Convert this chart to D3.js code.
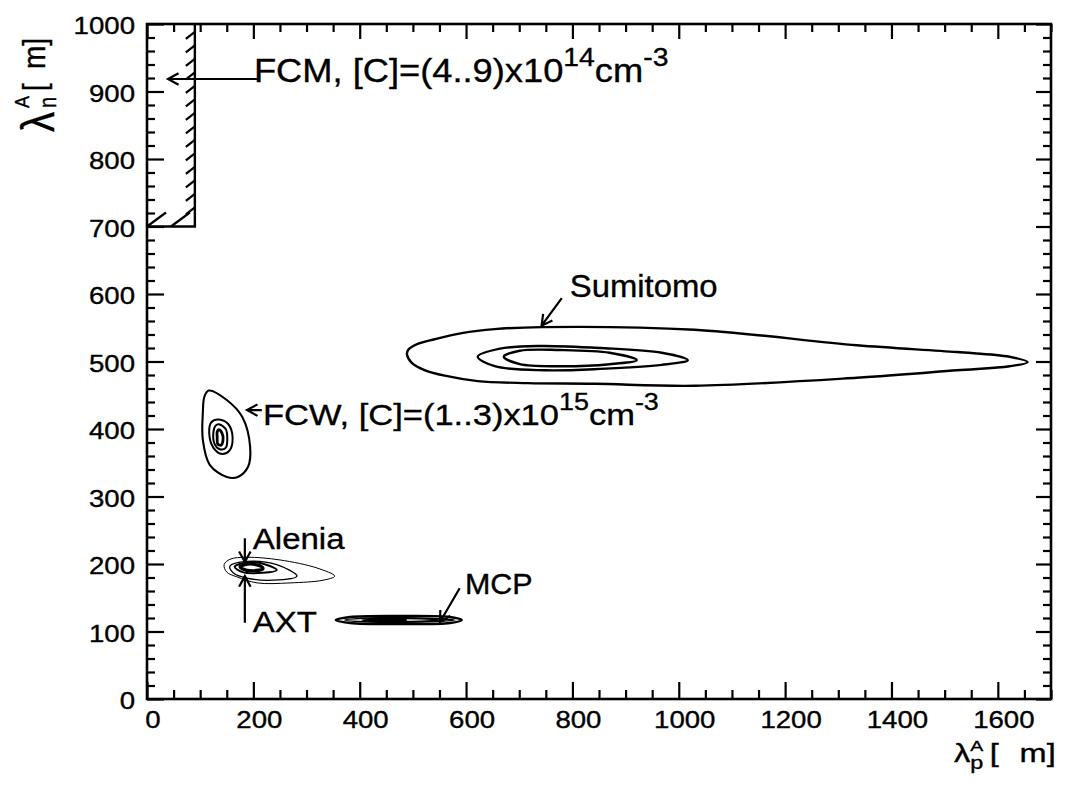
<!DOCTYPE html>
<html>
<head>
<meta charset="utf-8">
<script src="https://cdn.jsdelivr.net/npm/d3@7"></script>
<style>
  body { margin: 0; background: #fff; }
  svg { display: block; }
  text { font-family: "Liberation Sans", Arial, Helvetica, sans-serif; fill: #000; stroke: #000; stroke-width: 0.35px; white-space: pre; }
</style>
</head>
<body>
<svg id="chart" width="1065" height="794"></svg>
<script>
// ---- axes ----
const xDomain = [0, 1700];
const yDomain = [0, 1000];
const xMajorTicks = [0, 200, 400, 600, 800, 1000, 1200, 1400, 1600];
const yMajorTicks = [0, 100, 200, 300, 400, 500, 600, 700, 800, 900, 1000];
const xMinorStep = 50;
const yMinorStep = 20;

// ---- contour lines, [lambda_p, lambda_n] in um ----
const sumitomoOuter = [[742,551],[1030,547],[1335,524],[1523,514],[1622,507],[1656,499],[1622,493],[1523,487],[1335,476],[1030,464],[842,467],[716,468],[622,471],[560,479],[523,487],[498,498],[489,510],[491,517],[509,526],[541,533],[592,542],[654,548]];
const sumitomoMiddle = [[622,507],[664,519],[739,523],[852,520],[968,513],[1017,502],[968,495],[852,489],[748,487],[654,493]];
const sumitomoInner = [[671,507],[701,516],[776,517],[870,513],[921,502],[870,496],[776,493],[701,496]];

const fcwOuter = [[116,457],[150,443],[179,418],[194,373],[190,344],[171,329],[150,329],[118,347],[105,384],[105,424],[108,448]];
const fcwMiddle = [[135,414],[153,407],[161,387],[155,368],[141,363],[125,372],[117,394],[121,410]];
const fcwInner = [[135,407],[148,400],[151,384],[148,372],[137,370],[127,378],[125,396],[129,405]];
const fcwCore = [[135,399],[141,394],[143,384],[139,376],[133,378],[132,388],[132,396]];

const aleniaOuter = [[145,199],[156,207],[188,210],[250,206],[320,194],[353,182],[331,176],[269,172],[207,172],[169,181],[150,188]];
const aleniaSecond = [[156,197],[188,204],[244,199],[282,182],[237,176],[188,179],[162,187]];
const aleniaThird = [[165,196],[194,203],[231,197],[244,191],[218,187],[180,188]];
const aleniaCore = [[175,196],[194,200],[216,196],[218,193],[199,190],[179,193]];

const mcpOuter = [[355,117],[382,121.5],[476,123],[570,121.5],[592,117],[570,112.6],[476,111],[382,112.6]];
const mcpSecond = [[372,117],[419,120],[513,120],[579,117],[513,114],[419,114]];
const mcpThird = [[404,117],[447,119],[513,119],[551,117],[513,115],[447,115]];
const mcpCore = [[415,117],[447,118.5],[476,118.5],[485,117],[476,115.5],[447,115.5]];

// FCM excluded region (lambda_p < 90 um, lambda_n > 700 um)
const fcmRegion = { x0: 0, x1: 90, y0: 700, y1: 1000 };
const fcmHatchY = [984, 964, 944, 924, 904, 884, 864, 844, 824, 804, 784, 764, 744, 724];
const fcmHatchX = [0, 45];

// ---- annotations ----
const labelTexts = [
  { at: [201, 914], size: 33, sx: 1.1,
    parts: [{t: "FCM, [C]=(4..9)x10"}, {t: "14", sup: true}, {t: "cm"}, {t: "-3", sup: true}] },
  { at: [218, 406], size: 30, sx: 1.15,
    parts: [{t: "FCW, [C]=(1..3)x10"}, {t: "15", sup: true}, {t: "cm"}, {t: "-3", sup: true}] },
  { at: [795, 596], size: 31, sx: 1.06, parts: [{t: "Sumitomo"}] },
  { at: [199, 221.5], size: 30, sx: 1.1, parts: [{t: "Alenia"}] },
  { at: [199, 99], size: 30, sx: 1.1, parts: [{t: "AXT"}] },
  { at: [598, 155.5], size: 29, sx: 1.05, parts: [{t: "MCP"}] }
];
const arrows = [
  { from: [209, 918.5], to: [39.5, 918.5] },   // FCM
  { from: [216, 428], to: [188, 428] },        // FCW
  { from: [780, 594], to: [742, 553] },        // Sumitomo
  { from: [184, 238], to: [184, 203] },        // Alenia
  { from: [184, 113], to: [184, 182] },        // AXT
  { from: [588, 164], to: [551, 114] }         // MCP
];

// ---- drawing ----
const svg = d3.select("#chart");
const x = d3.scaleLinear().domain(xDomain).range([147, 1051]);
const y = d3.scaleLinear().domain(yDomain).range([699, 24]);

const xMinorTicks = d3.range(xDomain[0], xDomain[1] + 1, xMinorStep).filter(v => !xMajorTicks.includes(v));
const yMinorTicks = d3.range(yDomain[0], yDomain[1] + 1, yMinorStep).filter(v => !yMajorTicks.includes(v));

function tickAxis(axisFn, scale, values, size, translate) {
  const g = svg.append("g")
    .attr("transform", translate)
    .call(axisFn(scale).tickValues(values).tickSize(size).tickSizeOuter(0).tickFormat(""));
  g.select(".domain").remove();
  g.selectAll(".tick line").attr("stroke", "#000").attr("stroke-width", 2.2);
  g.selectAll(".tick text").remove();
}
// ticks point inward on all four sides
tickAxis(d3.axisBottom, x, xMajorTicks, -17, `translate(0,${y(0)})`);
tickAxis(d3.axisBottom, x, xMinorTicks, -9, `translate(0,${y(0)})`);
tickAxis(d3.axisTop, x, xMajorTicks, -15, `translate(0,${y(1000)})`);
tickAxis(d3.axisTop, x, xMinorTicks, -8, `translate(0,${y(1000)})`);
tickAxis(d3.axisLeft, y, yMajorTicks, -17, `translate(${x(0)},0)`);
tickAxis(d3.axisLeft, y, yMinorTicks, -8, `translate(${x(0)},0)`);
tickAxis(d3.axisRight, y, yMajorTicks, -15, `translate(${x(xDomain[1])},0)`);
tickAxis(d3.axisRight, y, yMinorTicks, -8, `translate(${x(xDomain[1])},0)`);

svg.append("rect")
  .attr("x", x(xDomain[0])).attr("y", y(yDomain[1]))
  .attr("width", x(xDomain[1]) - x(xDomain[0]))
  .attr("height", y(yDomain[0]) - y(yDomain[1]))
  .attr("fill", "none").attr("stroke", "#000").attr("stroke-width", 2.6);

// tick labels
svg.append("g").selectAll("text").data(xMajorTicks).join("text")
  .attr("transform", d => `translate(${x(d) + 6},${y(0) + 29}) scale(1.15,1)`)
  .attr("text-anchor", "middle").style("font-size", "24px")
  .text(d => d);
svg.append("g").selectAll("text").data(yMajorTicks).join("text")
  .attr("transform", d => `translate(${x(0) - 12},${y(d) + 10}) scale(1.15,1)`)
  .attr("text-anchor", "end").style("font-size", "24px")
  .text(d => d);

// axis titles: lambda with superscript A and a subscript, then the unit
function axisTitle(g, sub, o) {
  const t = g.append("text").style("font-size", o.main + "px");
  t.append("tspan").text("λ").style("font-size", o.lam + "px");
  t.append("tspan").text("A").style("font-size", o.sup + "px").attr("dx", o.supDx).attr("dy", o.supDy);
  t.append("tspan").text(sub).style("font-size", o.sub + "px")
    .attr("dx", -o.sup * 0.667).attr("dy", o.subDy - o.supDy);
  t.append("tspan").text("[").attr("dx", o.restDx).attr("dy", o.restDy - o.subDy);
  t.append("tspan").text("m]").attr("dx", o.unitDx);
}
axisTitle(svg.append("g").attr("transform", "translate(954,762) scale(1.3,1)"), "p",
  { main: 25, lam: 25, sup: 15, sub: 18, supDx: 0, supDy: -11, subDy: 7, restDx: 5, restDy: 0, unitDx: 16 });
axisTitle(svg.append("g").attr("transform", "translate(54,132) rotate(-90) scale(1,1.15)"), "n",
  { main: 28, lam: 40, sup: 18, sub: 20, supDx: 4, supDy: -22, subDy: 2, restDx: 6, restDy: -8, unitDx: 14 });

// FCM excluded region
const fcm = svg.append("g").attr("stroke", "#000").attr("fill", "none");
fcm.append("path")
  .attr("d", `M${x(fcmRegion.x1)},${y(fcmRegion.y1)}L${x(fcmRegion.x1)},${y(fcmRegion.y0)}L${x(fcmRegion.x0)},${y(fcmRegion.y0)}`)
  .attr("stroke-width", 2.4);
fcm.selectAll("line.hy").data(fcmHatchY).join("line").attr("class", "hy")
  .attr("x1", x(fcmRegion.x1) - 9).attr("y1", d => y(d) + 4)
  .attr("x2", x(fcmRegion.x1)).attr("y2", d => y(d) - 3)
  .attr("stroke-width", 2.2);
fcm.selectAll("line.hx").data(fcmHatchX).join("line").attr("class", "hx")
  .attr("x1", d => x(d)).attr("y1", y(fcmRegion.y0))
  .attr("x2", d => x(d) + 19).attr("y2", y(fcmRegion.y0) - 14)
  .attr("stroke-width", 2.2);

// contours
const contourLine = d3.line()
  .x(d => x(d[0])).y(d => y(d[1]))
  .curve(d3.curveCatmullRomClosed.alpha(0.5));
const contours = [
  { pts: sumitomoOuter, w: 2.4 }, { pts: sumitomoMiddle, w: 2.4 }, { pts: sumitomoInner, w: 2.4 },
  { pts: fcwOuter, w: 2.1 }, { pts: fcwMiddle, w: 2 }, { pts: fcwInner, w: 2 }, { pts: fcwCore, w: 2.8 },
  { pts: aleniaOuter, w: 1 }, { pts: aleniaSecond, w: 1.3 }, { pts: aleniaThird, w: 2 }, { pts: aleniaCore, w: 3.2 },
  { pts: mcpOuter, w: 2.4 }, { pts: mcpSecond, w: 1.6 }, { pts: mcpThird, w: 1.6 }, { pts: mcpCore, w: 4 }
];
svg.append("g").selectAll("path").data(contours).join("path")
  .attr("d", d => contourLine(d.pts))
  .attr("fill", "none").attr("stroke", "#000").attr("stroke-width", d => d.w);

// arrows
const arrowG = svg.append("g").attr("stroke", "#000").attr("stroke-width", 2.2).attr("fill", "none");
arrows.forEach(a => {
  const x1 = x(a.from[0]), y1 = y(a.from[1]), x2 = x(a.to[0]), y2 = y(a.to[1]);
  const ang = Math.atan2(y2 - y1, x2 - x1), L = 12, th = 0.5;
  arrowG.append("path").attr("d",
    `M${x1},${y1}L${x2},${y2}` +
    `M${x2 - L * Math.cos(ang - th)},${y2 - L * Math.sin(ang - th)}L${x2},${y2}` +
    `L${x2 - L * Math.cos(ang + th)},${y2 - L * Math.sin(ang + th)}`);
});

// annotation labels
labelTexts.forEach(l => {
  const t = svg.append("text")
    .attr("transform", `translate(${x(l.at[0])},${y(l.at[1])}) scale(${l.sx},1)`)
    .style("font-size", l.size + "px");
  let shift = 0;
  l.parts.forEach(p => {
    const target = p.sup ? -l.size * 0.5 : 0;
    t.append("tspan").text(p.t)
      .style("font-size", (p.sup ? l.size * 0.78 : l.size) + "px")
      .attr("dy", target - shift);
    shift = target;
  });
});
</script>
</body>
</html>
